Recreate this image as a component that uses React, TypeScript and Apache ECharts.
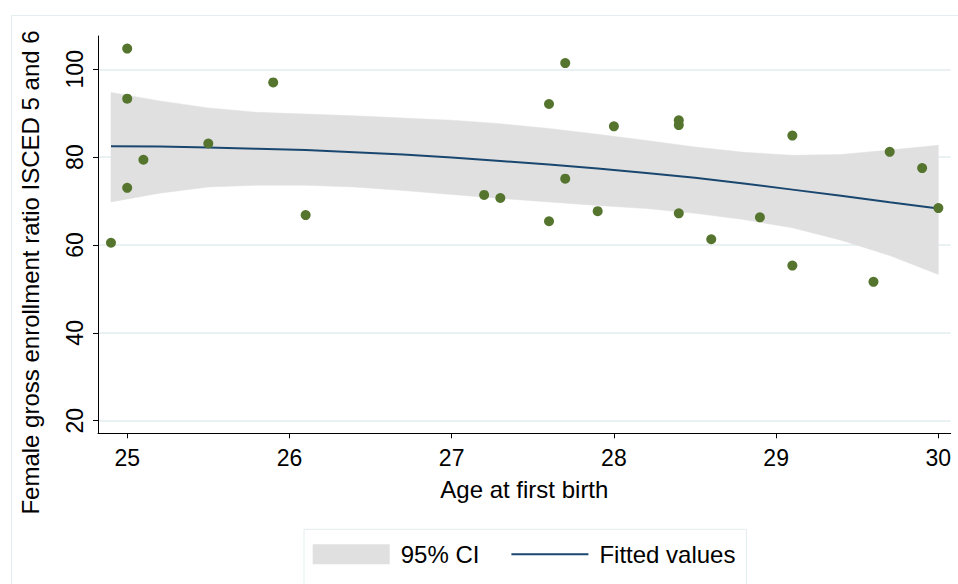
import React, { useEffect, useRef } from "react";
import * as echarts from "echarts";

// Scatter data: age at first birth vs female gross enrollment ratio (ISCED 5 and 6)
const ageAtFirstBirth = [
  24.9, 25.0, 25.0, 25.0, 25.1, 25.5, 25.9, 26.1, 27.2, 27.3, 27.6, 27.6, 27.7, 27.7,
  27.9, 28.0, 28.4, 28.4, 28.4, 28.6, 28.9, 29.1, 29.1, 29.6, 29.7, 29.9, 30.0,
];
const enrollmentRatio = [
  60.5, 104.7, 93.3, 73.0, 79.4, 83.1, 97.0, 66.8, 71.4, 70.7, 92.1, 65.4, 101.4, 75.1,
  67.7, 87.0, 88.4, 87.3, 67.2, 61.3, 66.3, 84.9, 55.3, 51.6, 81.2, 77.5, 68.4,
];

// Fitted curve and 95% confidence band
const fitAge = [
  24.9, 25.2, 25.5, 25.8, 26.1, 26.4, 26.7, 27.0, 27.3, 27.6, 27.9, 28.2, 28.5, 28.8,
  29.1, 29.4, 29.7, 30.0,
];
const fittedValues = [
  82.5, 82.4, 82.2, 81.9, 81.6, 81.1, 80.6, 79.9, 79.1, 78.3, 77.4, 76.4, 75.3, 74.0,
  72.6, 71.2, 69.7, 68.3,
];
const ciUpper = [
  94.7, 92.8, 91.2, 90.2, 89.8, 89.4, 88.9, 88.4, 87.6, 86.5, 85.2, 83.8, 82.3, 81.1,
  80.4, 80.6, 81.6, 82.7,
];
const ciLower = [
  69.8, 71.8, 73.2, 73.6, 73.6, 73.2, 72.4, 71.5, 70.6, 69.8, 69.0, 68.3, 67.2, 65.8,
  63.9, 61.1, 57.6, 53.3,
];

const xTicks = [25, 26, 27, 28, 29, 30];
const yTicks = [20, 40, 60, 80, 100];

const xTitle = "Age at first birth";
const yTitle = "Female gross enrollment ratio ISCED 5 and 6";
const legendNames = ["95% CI", "Fitted values"];

export default function App() {
  const ref = useRef<HTMLDivElement>(null);

  useEffect(() => {
    if (!ref.current) return;
    const chart = echarts.init(ref.current, null, { renderer: "svg" });
    const font = "'Liberation Sans', Arial, Helvetica, sans-serif";
    const lightLine = "#e3edef";
    const bandColor = "#e0e0e0";

    const bandData = fitAge.map((x, i) => [x, ciLower[i], ciUpper[i]]);

    chart.setOption({
      animation: false,
      backgroundColor: "#ffffff",
      textStyle: { fontFamily: font },
      grid: { left: 98, top: 36, right: 7.3, bottom: 150.7 },
      xAxis: {
        type: "value",
        min: 24.82,
        max: 30.076,
        name: xTitle,
        nameLocation: "middle",
        nameGap: 44,
        nameTextStyle: { fontSize: 24, color: "#000", fontFamily: font },
        axisLine: { show: true, onZero: false, lineStyle: { color: "#000", width: 1 } },
        axisTick: {
          show: true,
          length: 5,
          customValues: xTicks,
          lineStyle: { color: "#000", width: 1 },
        },
        axisLabel: {
          customValues: xTicks,
          fontSize: 23,
          color: "#000",
          margin: 13,
          fontFamily: font,
        },
        splitLine: { show: false },
      },
      yAxis: {
        type: "value",
        min: 17.13,
        max: 107.57,
        axisLine: { show: true, onZero: false, lineStyle: { color: "#000", width: 1 } },
        axisTick: {
          show: true,
          length: 5,
          customValues: yTicks,
          lineStyle: { color: "#000", width: 1 },
        },
        axisLabel: {
          customValues: yTicks,
          rotate: 90,
          fontSize: 23,
          color: "#000",
          margin: 12,
          fontFamily: font,
        },
        splitLine: { show: true, lineStyle: { color: lightLine, width: 1.5 } },
      },
      legend: {
        left: 304,
        top: 529.3,
        orient: "horizontal",
        padding: [13, 11, 40, 8.7],
        itemWidth: 77,
        itemHeight: 20,
        itemGap: 31,
        borderColor: lightLine,
        borderWidth: 1,
        backgroundColor: "#ffffff",
        selectedMode: false,
        textStyle: { fontSize: 24, color: "#000", fontFamily: font, padding: [0, 0, 0, 6] },
        data: [
          { name: legendNames[0], icon: "rect", itemStyle: { color: bandColor } },
          {
            name: legendNames[1],
            itemStyle: { color: "rgba(0,0,0,0)", opacity: 0, borderWidth: 0 },
            lineStyle: { color: "#1a476f", width: 2 },
          },
        ],
      },
      graphic: [
        {
          type: "rect",
          silent: true,
          z: -10,
          shape: { x: 11.5, y: 15.5, width: 990, height: 640 },
          style: { fill: "none", stroke: lightLine, lineWidth: 1 },
        },
        {
          type: "text",
          x: 30,
          y: 272.5,
          rotation: Math.PI / 2,
          style: {
            text: yTitle,
            fontSize: 24,
            fontFamily: font,
            fill: "#000",
            align: "center",
            verticalAlign: "middle",
          },
        },
      ],
      series: [
        {
          name: legendNames[0],
          type: "custom",
          data: bandData,
          encode: { x: 0, y: [1, 2] },
          silent: true,
          itemStyle: { color: bandColor },
          z: 1,
          renderItem: (params: any, api: any) => {
            if (params.dataIndex !== 0) return null;
            const pts: number[][] = [];
            for (let i = 0; i < bandData.length; i++) {
              pts.push(api.coord([bandData[i][0], bandData[i][2]]));
            }
            for (let i = bandData.length - 1; i >= 0; i--) {
              pts.push(api.coord([bandData[i][0], bandData[i][1]]));
            }
            return {
              type: "polygon",
              shape: { points: pts },
              style: { fill: bandColor, stroke: bandColor, lineWidth: 0.5 },
            };
          },
        },
        {
          name: legendNames[1],
          type: "line",
          data: fitAge.map((x, i) => [x, fittedValues[i]]),
          symbol: "none",
          lineStyle: { color: "#1a476f", width: 2 },
          itemStyle: { color: "#1a476f" },
          z: 2,
        },
        {
          name: "Enrollment",
          type: "scatter",
          data: ageAtFirstBirth.map((x, i) => [x, enrollmentRatio[i]]),
          symbolSize: 10,
          itemStyle: { color: "#55752f", opacity: 1 },
          z: 3,
        },
      ],
    });

    return () => chart.dispose();
  }, []);

  return (
    <div
      ref={ref}
      style={{ position: "fixed", left: 0, top: 0, width: 958, height: 584, background: "#fff" }}
    />
  );
}
